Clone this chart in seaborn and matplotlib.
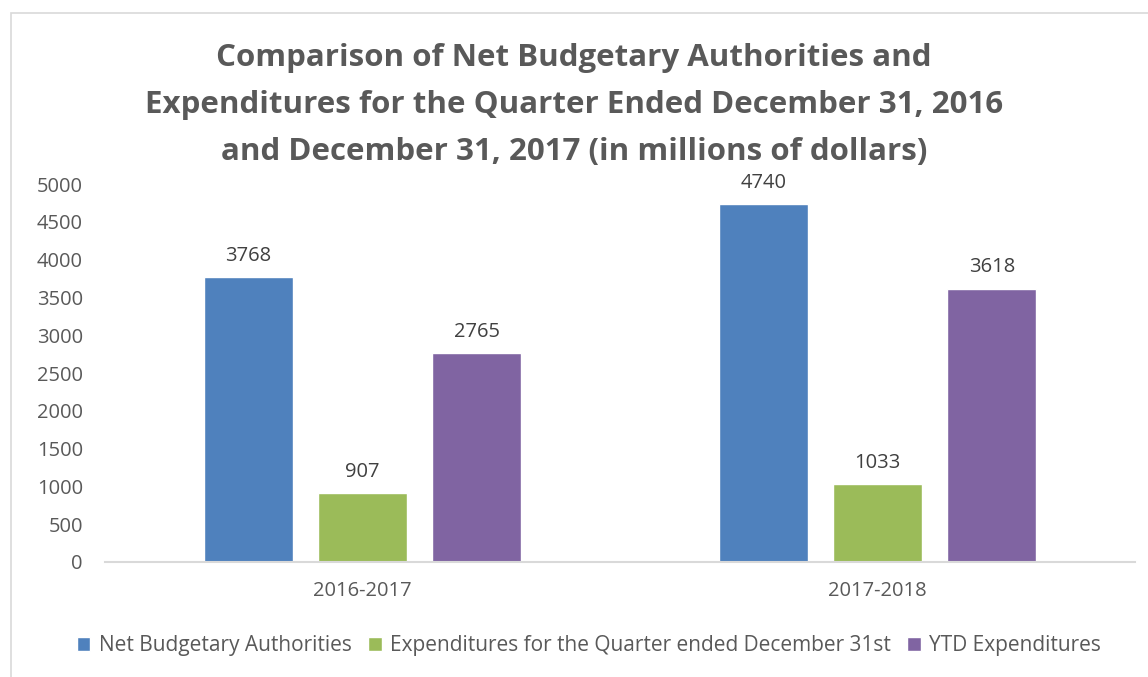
import seaborn as sns
import matplotlib.pyplot as plt
import matplotlib.patches as mpatches
import pandas as pd

# datos
anios = ["2016-2017", "2017-2018"]
series = ["Net Budgetary Authorities",
          "Expenditures for the Quarter ended December 31st",
          "YTD Expenditures"]
autoridades = [3768, 4740]
gastos_trimestre = [907, 1033]
gastos_ytd = [2765, 3618]

colores = ["#4F81BD", "#9BBB59", "#8064A2"]
gris = "#595959"

filas = []
for i, anio in enumerate(anios):
    for serie, valores in zip(series, [autoridades, gastos_trimestre, gastos_ytd]):
        filas.append({"Año": anio, "Serie": serie, "Valor": valores[i]})
df = pd.DataFrame(filas)

sns.set_theme(style="white")
plt.rcParams["font.family"] = ["Open Sans", "DejaVu Sans"]

fig = plt.figure(figsize=(11.48, 6.77), dpi=100)
ax = fig.add_axes([0.0915, 0.170, 0.8975, 0.558])

sns.barplot(data=df, x="Año", y="Valor", hue="Serie", palette=colores,
            width=0.664, gap=0.22, saturation=1, ax=ax, legend=True)

for cont in ax.containers:
    ax.bar_label(cont, padding=8, fontsize=14.5, color="#404040")

ax.set_ylim(0, 5000)
ax.set_xlim(-0.5, 1.5)
ax.set_yticks(range(0, 5001, 500))
ax.tick_params(axis="both", labelsize=14.5, colors=gris, length=0)
ax.tick_params(axis="y", pad=16)
ax.tick_params(axis="x", pad=14)
ax.set_xlabel("")
ax.set_ylabel("")
for lado in ["top", "right", "left"]:
    ax.spines[lado].set_visible(False)
ax.spines["bottom"].set_color("#D9D9D9")
ax.spines["bottom"].set_linewidth(1.5)

ax.legend(loc="center", bbox_to_anchor=(0.513, 1 - 646 / 677), bbox_transform=fig.transFigure,
          ncol=3, frameon=False, fontsize=15, labelcolor=gris,
          handlelength=0.65, handleheight=0.65, handletextpad=0.4, columnspacing=0.8)

fig.text(0.5, 1 - 105 / 677,
         "Comparison of Net Budgetary Authorities and\n"
         "Expenditures for the Quarter Ended December 31, 2016\n"
         "and December 31, 2017 (in millions of dollars)",
         ha="center", va="center", fontsize=22.5, fontweight="bold", color=gris,
         linespacing=1.72)

# marco del grafico
marco = mpatches.Rectangle((11 / 1148, -0.1), 1.2, 1 - 13 / 677 + 0.1, transform=fig.transFigure,
                           fill=False, edgecolor="#D9D9D9", linewidth=1.2)
fig.patches.append(marco)

fig.savefig("out.png", dpi=100)
